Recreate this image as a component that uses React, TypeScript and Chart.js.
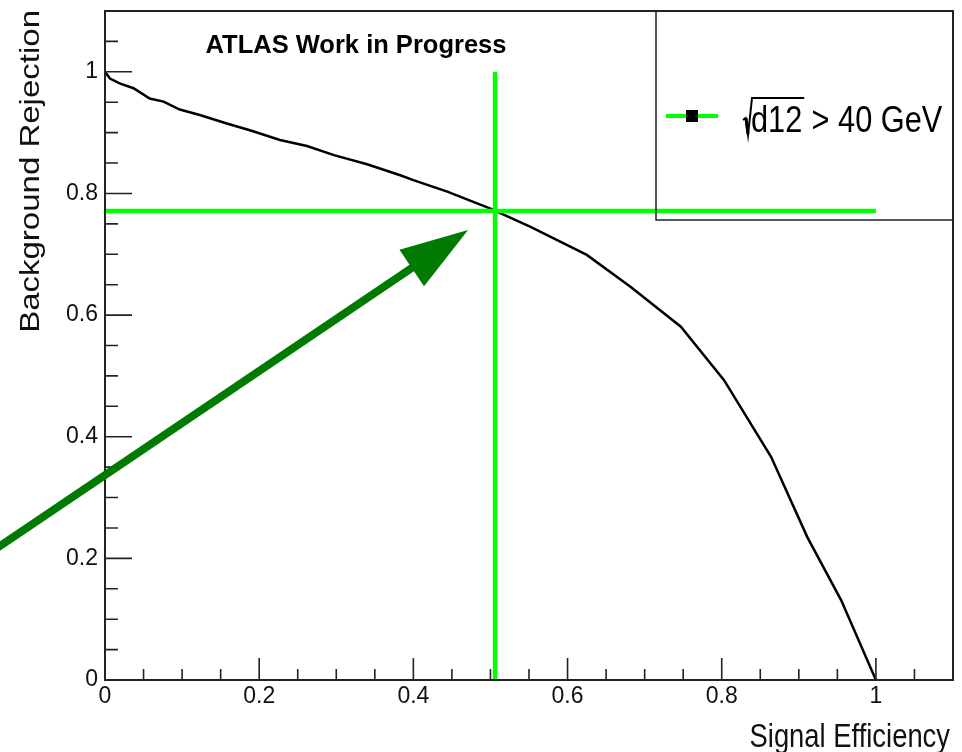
import React, { useEffect, useRef } from 'react';
import { Chart, registerables } from 'chart.js';

Chart.register(...registerables);

// ---- data ----
const signalEff = [0, 0.0065, 0.019, 0.037, 0.058, 0.076, 0.097, 0.123, 0.158, 0.188, 0.227, 0.262, 0.297, 0.34, 0.383, 0.4, 0.444, 0.5, 0.552, 0.625, 0.682, 0.747, 0.803, 0.864, 0.911, 0.955, 1.0];
const bkgRejection = [1.0, 0.989, 0.981, 0.973, 0.956, 0.951, 0.938, 0.929, 0.915, 0.904, 0.888, 0.878, 0.863, 0.848, 0.83, 0.822, 0.803, 0.775, 0.745, 0.699, 0.646, 0.581, 0.493, 0.367, 0.235, 0.131, 0.0];
const cutEff = 0.506;
const cutRej = 0.771;
const arrowTail = { x: -0.16, y: 0.2 };
const arrowTip = { x: 0.471, y: 0.74 };
const majorTicks = [0, 0.2, 0.4, 0.6, 0.8, 1];
const minorStep = 0.05;
const axisMin = 0;
const axisMax = 1.1;
const xTitle = 'Signal Efficiency';
const yTitle = 'Background Rejection';
const headline = 'ATLAS Work in Progress';
const legendRadicand = 'd12';
const legendRest = ' > 40 GeV';

const FONT = '"Liberation Sans", Arial, Helvetica, sans-serif';
const SQ = 0.83; // horizontal squeeze of the original ROOT text
const GREEN = '#00ff00';
const DARKGREEN = 'rgb(0,122,0)';

const decor = {
  id: 'rocDecor',
  afterDraw(chart: any) {
    const { ctx, chartArea: ca, scales } = chart;
    const xs = scales.x;
    const ys = scales.y;
    ctx.save();

    // frame
    ctx.strokeStyle = '#222';
    ctx.lineWidth = 2;
    ctx.strokeRect(ca.left, ca.top, ca.right - ca.left, ca.bottom - ca.top);

    // inward ticks
    ctx.lineWidth = 1.6;
    ctx.beginPath();
    for (let i = 1; i * minorStep < axisMax - 1e-6; i++) {
      const v = i * minorStep;
      const major = majorTicks.some((m) => Math.abs(m - v) < 1e-6);
      const px = xs.getPixelForValue(v);
      const py = ys.getPixelForValue(v);
      ctx.moveTo(px, ca.bottom);
      ctx.lineTo(px, ca.bottom - (major ? 22 : 11));
      ctx.moveTo(ca.left, py);
      ctx.lineTo(ca.left + (major ? 27 : 13), py);
    }
    ctx.stroke();

    // axis titles (squeezed)
    ctx.fillStyle = '#111';
    ctx.font = `33px ${FONT}`;
    ctx.textBaseline = 'alphabetic';
    ctx.save();
    ctx.translate(ca.right - 3, 747);
    ctx.scale(SQ, 1);
    ctx.textAlign = 'right';
    ctx.fillText(xTitle, 0, 0);
    ctx.restore();

    ctx.save();
    ctx.translate(39, ca.top - 1);
    ctx.scale(SQ, 1);
    ctx.rotate(-Math.PI / 2);
    ctx.textAlign = 'right';
    ctx.fillText(yTitle, 0, 0);
    ctx.restore();

    // headline
    ctx.font = `bold 25.5px ${FONT}`;
    ctx.textAlign = 'center';
    ctx.fillStyle = '#000';
    ctx.fillText(headline, 356, 53);

    // legend box
    const lx0 = ca.right - 297;
    const ly0 = ca.top;
    ctx.strokeStyle = '#222';
    ctx.lineWidth = 1.5;
    ctx.strokeRect(lx0, ly0, ca.right - lx0, 209);
    const ly = ly0 + 105;
    ctx.strokeStyle = GREEN;
    ctx.lineWidth = 4;
    ctx.beginPath();
    ctx.moveTo(lx0 + 10, ly);
    ctx.lineTo(lx0 + 62, ly);
    ctx.stroke();
    ctx.fillStyle = '#000';
    ctx.fillRect(lx0 + 30, ly - 6, 12, 12);

    // legend text with sqrt
    ctx.font = `37px ${FONT}`;
    ctx.textAlign = 'left';
    const tx = lx0 + 95;
    const base = ly + 16;
    const wRad = ctx.measureText(legendRadicand).width * SQ;
    ctx.save();
    ctx.translate(tx, base);
    ctx.scale(SQ, 1);
    ctx.fillText(legendRadicand, 0, 0);
    ctx.fillText(legendRest, wRad / SQ + 1, 0);
    ctx.restore();
    ctx.strokeStyle = '#000';
    ctx.lineWidth = 2;
    ctx.beginPath();
    ctx.moveTo(tx - 8, base - 12);
    ctx.lineTo(tx - 5.5, base - 14);
    ctx.lineTo(tx - 3, base + 3);
    ctx.lineTo(tx + 1, base - 34);
    ctx.lineTo(tx + wRad + 2, base - 34);
    ctx.stroke();
    ctx.lineWidth = 3;
    ctx.beginPath();
    ctx.moveTo(tx - 5, base - 14);
    ctx.lineTo(tx - 3, base + 2);
    ctx.stroke();

    // arrow
    const T = { x: xs.getPixelForValue(arrowTail.x), y: ys.getPixelForValue(arrowTail.y) };
    const P = { x: xs.getPixelForValue(arrowTip.x), y: ys.getPixelForValue(arrowTip.y) };
    const len = Math.hypot(P.x - T.x, P.y - T.y);
    const d = { x: (P.x - T.x) / len, y: (P.y - T.y) / len };
    const n = { x: -d.y, y: d.x };
    const headLen = 68;
    const halfW = 22;
    const B = { x: P.x - d.x * headLen, y: P.y - d.y * headLen };
    ctx.strokeStyle = DARKGREEN;
    ctx.fillStyle = DARKGREEN;
    ctx.lineWidth = 8;
    ctx.lineCap = 'butt';
    ctx.beginPath();
    ctx.moveTo(T.x, T.y);
    ctx.lineTo(B.x + d.x * 4, B.y + d.y * 4);
    ctx.stroke();
    ctx.beginPath();
    ctx.moveTo(P.x, P.y);
    ctx.lineTo(B.x + n.x * halfW, B.y + n.y * halfW);
    ctx.lineTo(B.x - n.x * halfW, B.y - n.y * halfW);
    ctx.closePath();
    ctx.fill();

    ctx.restore();
  },
};

export default function App() {
  const ref = useRef<HTMLCanvasElement | null>(null);
  useEffect(() => {
    if (!ref.current) return;
    const setTicks = (scale: any) => {
      scale.ticks = majorTicks.map((v) => ({ value: v }));
    };
    const noPad = (s: any) => {
      s.paddingTop = 0;
      s.paddingBottom = 0;
      s.paddingLeft = 0;
      s.paddingRight = 0;
    };
    const fmt = (v: any) => String(+Number(v).toFixed(1));
    const chart = new Chart(ref.current, {
      type: 'line',
      data: {
        datasets: [
          {
            label: 'cutH',
            data: [{ x: 0, y: cutRej }, { x: 1, y: cutRej }],
            borderColor: GREEN,
            borderWidth: 4.5,
            pointRadius: 0,
            order: 0,
          },
          {
            label: 'cutV',
            data: [{ x: cutEff, y: 0 }, { x: cutEff, y: 1 }],
            borderColor: GREEN,
            borderWidth: 4.5,
            pointRadius: 0,
            order: 0,
          },
          {
            label: 'roc',
            data: signalEff.map((x, i) => ({ x, y: bkgRejection[i] })),
            borderColor: '#000',
            borderWidth: 2.5,
            pointRadius: 0,
            tension: 0,
            order: 1,
          },
        ],
      },
      options: {
        animation: false,
        responsive: true,
        maintainAspectRatio: false,
        events: [],
        layout: { padding: { top: 11, right: 9, left: 0, bottom: 0 } },
        plugins: { legend: { display: false }, tooltip: { enabled: false }, title: { display: false } },
        scales: {
          x: {
            type: 'linear',
            min: axisMin,
            max: axisMax,
            grid: { display: false, drawTicks: false },
            border: { display: false },
            afterBuildTicks: setTicks,
            afterFit: (s: any) => { s.height = 72; noPad(s); },
            ticks: { padding: 3, maxRotation: 0, autoSkip: false, color: '#111', font: { family: FONT, size: 23 }, callback: fmt },
          },
          y: {
            type: 'linear',
            min: axisMin,
            max: axisMax,
            grid: { display: false, drawTicks: false },
            border: { display: false },
            afterBuildTicks: setTicks,
            afterFit: (s: any) => { s.width = 105; noPad(s); },
            ticks: { padding: 7, autoSkip: false, color: '#111', font: { family: FONT, size: 23 }, callback: fmt },
          },
        },
      },
      plugins: [decor],
    } as any);
    return () => chart.destroy();
  }, []);
  return (
    <div style={{ position: 'absolute', left: 0, top: 0, width: 962, height: 752, background: '#fff' }}>
      <canvas ref={ref} />
    </div>
  );
}
